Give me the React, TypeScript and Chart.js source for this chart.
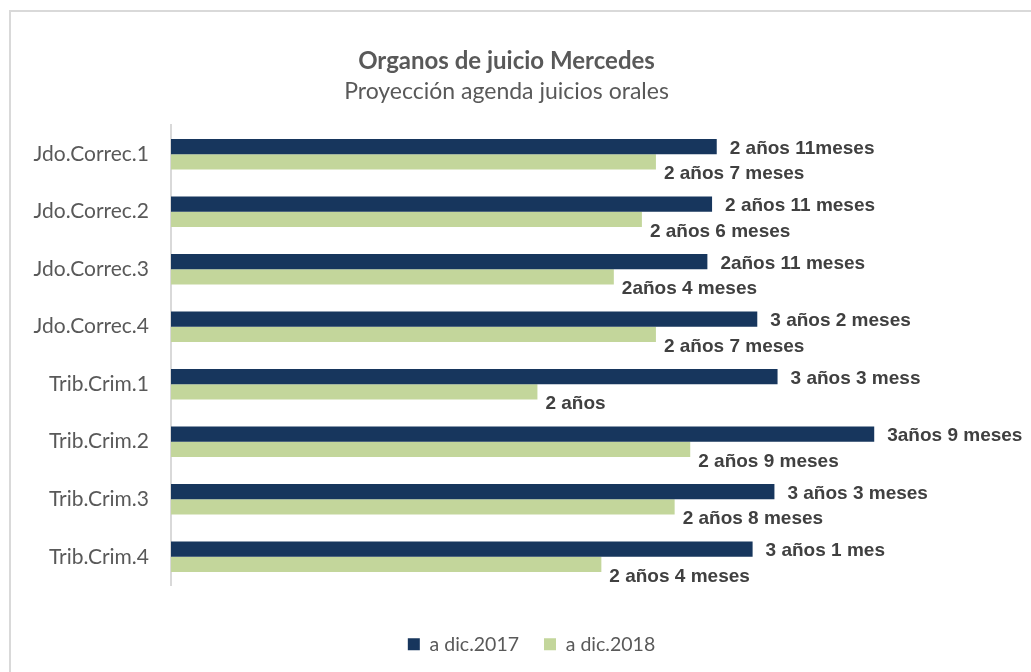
import React, { useEffect, useRef } from "react";
import { Chart, registerables } from "chart.js";

Chart.register(...registerables);

const categories = [
  "Jdo.Correc.1",
  "Jdo.Correc.2",
  "Jdo.Correc.3",
  "Jdo.Correc.4",
  "Trib.Crim.1",
  "Trib.Crim.2",
  "Trib.Crim.3",
  "Trib.Crim.4",
];
// duration in months
const values2017 = [35.0, 34.7, 34.4, 37.6, 38.9, 45.1, 38.7, 37.3];
const values2018 = [31.1, 30.2, 28.4, 31.1, 23.5, 33.3, 32.3, 27.6];
const labels2017 = [
  "2 años 11meses",
  "2 años 11 meses",
  "2años 11 meses",
  "3 años 2 meses",
  "3 años 3 mess",
  "3años 9 meses",
  "3 años 3 meses",
  "3 años 1 mes",
];
const labels2018 = [
  "2 años 7 meses",
  "2 años 6 meses",
  "2años 4 meses",
  "2 años 7 meses",
  "2 años",
  "2 años 9 meses",
  "2 años 8 meses",
  "2 años 4 meses",
];
const seriesNames = ["a dic.2017", "a dic.2018"];

const DARK = "#17365D";
const GREEN = "#C3D69B";

const valueLabelPlugin = {
  id: "valueLabels",
  afterLayout(chart: any) {
    // nudge the legend row to sit where the original has it
    if (chart.legend) {
      chart.legend.left += 25;
      chart.legend.right += 25;
    }
  },
  afterDatasetsDraw(chart: any) {
    const ctx = chart.ctx;
    ctx.save();
    ctx.font = "bold 19px 'Liberation Sans', Arial, sans-serif";
    ctx.fillStyle = "#404040";
    ctx.textAlign = "left";
    ctx.textBaseline = "middle";
    const sets = [
      { idx: 0, labels: labels2017, dx: 13, dy: 2 },
      { idx: 1, labels: labels2018, dx: 8, dy: 12 },
    ];
    sets.forEach((s) => {
      const meta = chart.getDatasetMeta(s.idx);
      meta.data.forEach((bar: any, i: number) => {
        ctx.fillText(s.labels[i], bar.x + s.dx, bar.y + s.dy);
      });
    });
    ctx.restore();
  },
};

export default function App() {
  const canvasRef = useRef<HTMLCanvasElement | null>(null);

  useEffect(() => {
    if (!canvasRef.current) return;
    const chart = new Chart(canvasRef.current, {
      type: "bar",
      data: {
        labels: categories,
        datasets: [
          {
            label: seriesNames[0],
            data: values2017,
            backgroundColor: DARK,
            borderWidth: 0,
          },
          {
            label: seriesNames[1],
            data: values2018,
            backgroundColor: GREEN,
            borderWidth: 0,
          },
        ],
      },
      options: {
        indexAxis: "y",
        animation: false,
        responsive: false,
        maintainAspectRatio: false,
        datasets: {
          bar: { categoryPercentage: 0.53, barPercentage: 1.0 },
        },
        layout: { padding: { top: 0, left: 0, right: 18, bottom: 8 } },
        scales: {
          x: {
            min: 0,
            max: 54,
            display: true,
            grid: { display: false, drawTicks: false },
            border: { display: false },
            ticks: { display: false },
            afterFit: (axis: any) => {
              axis.height = 24;
            },
          },
          y: {
            grid: { display: false, drawTicks: false },
            border: { display: true, color: "#d9d9d9", width: 2 },
            ticks: {
              padding: 22,
              color: "#595959",
              font: { family: "Lato, 'Open Sans', sans-serif", size: 21 },
            },
            afterFit: (axis: any) => {
              axis.width = 171;
            },
          },
        },
        plugins: {
          tooltip: { enabled: false },
          title: {
            display: true,
            text: "Organos de juicio Mercedes",
            color: "#595959",
            font: { family: "Lato, 'Open Sans', sans-serif", size: 24, weight: "bold" },
            padding: { top: 47, bottom: 0 },
          },
          subtitle: {
            display: true,
            text: "Proyección agenda juicios orales",
            color: "#595959",
            font: { family: "Lato, 'Open Sans', sans-serif", size: 23 },
            padding: { top: 2, bottom: 20 },
          },
          legend: {
            display: true,
            position: "bottom",
            labels: {
              boxWidth: 12,
              boxHeight: 12,
              padding: 25,
              color: "#595959",
              font: { family: "Lato, 'Open Sans', sans-serif", size: 19.5 },
            },
          },
        },
      },
      plugins: [valueLabelPlugin],
    });
    return () => chart.destroy();
  }, []);

  return (
    <div style={{ position: "fixed", left: 0, top: 0, width: 1031, height: 672, background: "#fff" }}>
      <div
        style={{
          position: "absolute",
          left: 9,
          top: 10,
          width: 1100,
          height: 700,
          borderLeft: "2px solid #d9d9d9",
          borderTop: "2px solid #d9d9d9",
        }}
      />
      <canvas
        ref={canvasRef}
        width={1031}
        height={672}
        style={{ position: "absolute", left: 0, top: 0, width: 1031, height: 672 }}
      />
    </div>
  );
}
